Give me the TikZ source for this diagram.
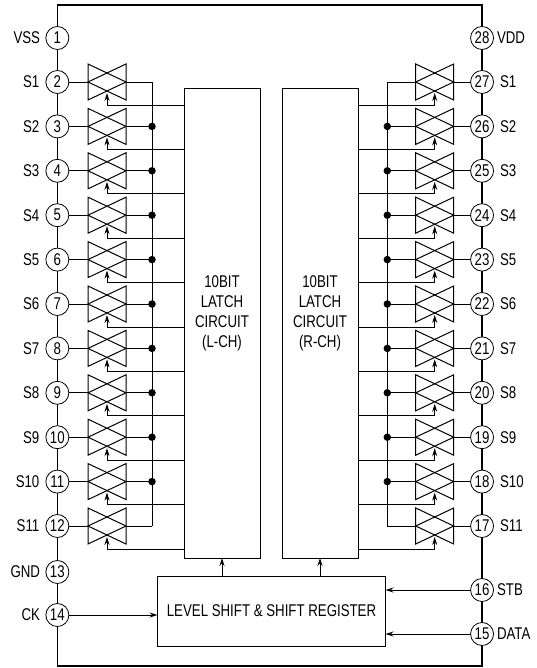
\documentclass[tikz,border=0pt]{standalone}
\usepackage{fontspec}
\setmainfont[FakeStretch=0.78]{Liberation Sans}
\usetikzlibrary{arrows.meta,positioning,calc}

\begin{document}
\begin{tikzpicture}[
    x=1pt, y=-1pt,
    every node/.style={font=\fontsize{17}{20}\selectfont},
    chipbox/.style={rectangle, draw, outer sep=0pt, line width=1.7pt, minimum width=424.7pt, minimum height=661pt},
    pin/.style={circle, draw, fill=white, outer sep=0pt, line width=0.8pt, minimum size=23pt, inner sep=0pt},
    pinname/.style={inner sep=0pt, outer sep=0pt},
    gate/.style={rectangle, minimum width=38pt, minimum height=36pt, inner sep=0pt, outer sep=0pt},
    block/.style={rectangle, draw, line width=1pt, inner sep=0pt, outer sep=0pt},
    latch/.style={block, minimum width=76pt, minimum height=469pt},
    wire/.style={line width=0.9pt},
    gatewire/.style={line width=1pt},
    arr/.style={-{Stealth[length=8pt, width=5pt]}, line width=0.9pt},
    dot/.style={circle, fill=black, minimum size=7.5pt, inner sep=0pt},
]
    \useasboundingbox (0,0) rectangle (537,668);
    \node[chipbox] (chip) at (269.7,335.5) {};

    % Latch and shift register blocks
    \node[latch] (latchL) at (222,323.5) {};
    \node[latch] (latchR) at (320,323.5) {};
    \node[align=center] (textL) at ([yshift=10pt]latchL.center) {10BIT\\LATCH\\CIRCUIT\\(L-CH)};
    \node[align=center] (textR) at ([yshift=10pt]latchR.center) {10BIT\\LATCH\\CIRCUIT\\(R-CH)};
    \node[block, minimum width=228pt, minimum height=70pt] (level) at (271.5,611) {LEVEL SHIFT \& SHIFT REGISTER};
    \draw[arr] (latchL.south |- level.north) -- (latchL.south);
    \draw[arr] (latchR.south |- level.north) -- (latchR.south);

    % Supply and control pins
    \node[pin] (pinVSS) at (chip.west |- 0,38) {1};
    \node[pinname, left=5.8pt of pinVSS] (nameVSS) {VSS};
    \node[pin] (pinGND) at (chip.west |- 0,572) {13};
    \node[pinname, left=5.8pt of pinGND] (nameGND) {GND};
    \node[pin] (pinCK) at (chip.west |- 0,615) {14};
    \node[pinname, left=5.8pt of pinCK] (nameCK) {CK};
    \node[pin] (pinVDD) at (chip.east |- 0,38) {28};
    \node[pinname, right=3.5pt of pinVDD] (nameVDD) {VDD};
    \node[pin] (pinSTB) at (chip.east |- 0,590) {16};
    \node[pinname, right=3.5pt of pinSTB] (nameSTB) {STB};
    \node[pin] (pinDATA) at (chip.east |- 0,634) {15};
    \node[pinname, right=3.5pt of pinDATA] (nameDATA) {DATA};
    \draw[arr] (pinCK.east) -- (level.west |- pinCK);
    \draw[arr] (pinSTB.west) -- (level.east |- pinSTB);
    \draw[arr] (pinDATA.west) -- (level.east |- pinDATA);

    % Switch pins with their gates
    \foreach \s in {1,...,11} {
        \pgfmathsetmacro{\ypos}{82+44.4*(\s-1)}
        \pgfmathtruncatemacro{\numL}{\s+1}
        \pgfmathtruncatemacro{\numR}{28-\s}
        \node[pin] (pinL\s) at (chip.west |- 0,\ypos) {\numL};
        \node[pin] (pinR\s) at (chip.east |- 0,\ypos) {\numR};
        \node[pinname, left=6.5pt of pinL\s] (nameL\s) {S\s};
        \node[pinname, right=6.5pt of pinR\s] (nameR\s) {S\s};
        \node[gate] (gateL\s) at (107,\ypos) {};
        \node[gate] (gateR\s) at (434.7,\ypos) {};
        \foreach \g in {gateL\s,gateR\s} {
            \draw[gatewire, line join=miter] (\g.north west) -- (\g.east) -- (\g.south west) -- cycle;
            \draw[gatewire, line join=miter] (\g.north east) -- (\g.west) -- (\g.south east) -- cycle;
        }
        \coordinate (busL\s) at (152,\ypos);
        \coordinate (busR\s) at (387.3,\ypos);
        \draw[wire] (pinL\s.east) -- (gateL\s.west);
        \draw[wire] (pinR\s.west) -- (gateR\s.east);
        \draw[wire] (gateL\s.east) -- (busL\s);
        \draw[wire] (gateR\s.west) -- (busR\s);
        % Gate control from the latch
        \coordinate (tipL\s) at ([yshift=-11pt]gateL\s.center);
        \coordinate (tipR\s) at ([yshift=-11pt]gateR\s.center);
        \coordinate (ctlL\s) at ([yshift=-23pt]gateL\s.center);
        \coordinate (ctlR\s) at ([yshift=-23pt]gateR\s.center);
        \draw[wire] (latchL.west |- ctlL\s) -- (ctlL\s);
        \draw[wire] (latchR.east |- ctlR\s) -- (ctlR\s);
        \draw[arr] (ctlL\s) -- (tipL\s);
        \draw[arr] (ctlR\s) -- (tipR\s);
    }
    \draw[wire] (busL1) -- (busL11);
    \draw[wire] (busR1) -- (busR11);
    \foreach \s in {2,...,10} {
        \node[dot] (dotL\s) at (busL\s) {};
        \node[dot] (dotR\s) at (busR\s) {};
    }
\end{tikzpicture}
\end{document}
